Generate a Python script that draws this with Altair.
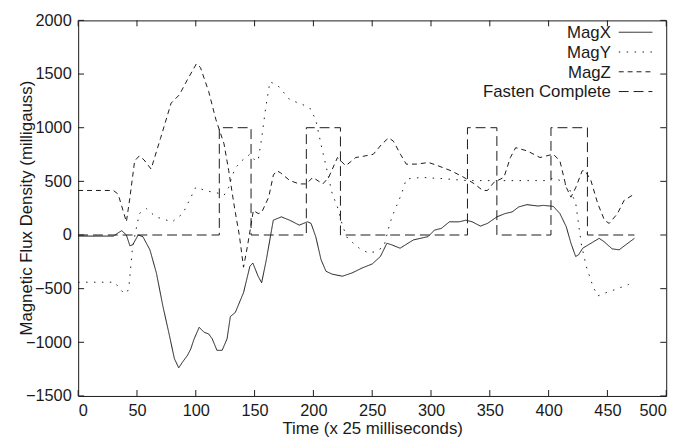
import altair as alt
import pandas as pd

# ---- data ----
magx_t = [0, 30, 34, 37, 41, 44, 46.5, 51, 55, 61, 66.5, 72, 77.6, 81.8, 85.5, 88.8, 93, 95.8, 98.6,
          102.9, 107, 111, 114, 118, 122.4, 126.6, 129.4, 133.6, 140.6, 146, 148.5, 153, 156, 160,
          165.9, 172.8, 179.8, 188, 195, 198, 202, 206.5, 210.7, 216, 224.7, 233, 241.5, 250, 257,
          262.5, 266.7, 273.7, 285, 297.5, 303, 308.7, 315.7, 324, 329.7, 335, 342, 348, 356, 363,
          369, 374.5, 381.5, 391, 395.5, 404, 409.6, 415, 419, 423, 425.5, 429, 436, 443, 447, 454,
          460, 465.5, 473]
magx_v = [-10, -10, 20, 40, 0, -101, -90, 0, -15, -138, -353, -661, -937, -1152, -1238, -1183, -1121,
          -1060, -968, -860, -906, -922, -968, -1075, -1075, -968, -760, -722, -537, -292, -261, -384,
          -445, -230, 138, 169, 138, 92, 123, 108, -15, -230, -338, -365, -384, -353, -307, -270,
          -200, -77, -92, -123, -46, -15, 46, 61, 123, 123, 138, 123, 83, 108, 169, 200, 215, 261,
          283, 270, 276, 267, 200, 77, -77, -200, -184, -123, -77, -31, -61, -129, -138, -92, -31]

magy_t = [0, 31, 37, 41, 43, 44.5, 46, 48, 52, 58, 66, 80, 89, 100, 108, 114, 119, 124, 128, 131, 134,
          139, 146, 150, 153, 156, 159, 163, 170, 180, 190, 197, 202, 206.5, 211, 216, 220.5, 225,
          229, 239, 247, 253, 260, 265, 268, 275, 279, 292, 310, 331, 356, 380, 398, 404, 412, 418,
          423, 427.7, 432, 437.6, 441.8, 448.7, 457, 468, 473]
magy_v = [-440, -440, -522, -544, -500, -322, -138, -15, 200, 246, 169, 123, 200, 445, 415, 400, 390,
          369, 445, 553, 630, 691, 753, 700, 691, 900, 1150, 1429, 1390, 1260, 1220, 1183, 1075, 845,
          630, 384, 261, 77, -30, -123, -169, -154, -108, 108, 200, 384, 522, 537, 525, 507, 507,
          507, 507, 530, 500, 420, 300, -77, -292, -476, -568, -538, -507, -461, -430]

magz_t = [0, 30, 34, 41, 44, 48, 52, 56, 62, 70, 79, 86, 93, 100.6, 104, 111, 117, 124, 128, 133, 137,
          140.6, 144, 149, 153, 156, 162, 166, 169, 172, 180, 188, 194, 199.5, 208, 213, 220.5, 227.5,
          236, 244, 251, 258, 264, 268, 274, 279, 288, 298, 306, 317, 328, 337, 344, 348, 353.5, 362,
          367.5, 372, 382, 392.7, 398, 404, 409.6, 415, 419, 423, 428.6, 431, 436, 441.8, 447.5,
          451.5, 458.6, 464.2, 471, 473]
magz_v = [415, 415, 380, 123, 350, 690, 737, 700, 615, 900, 1229, 1306, 1450, 1597, 1560, 1336, 1080,
          850, 600, 250, 0, -300, -100, 230, 200, 210, 353, 560, 599, 580, 507, 476, 476, 537, 476,
          537, 722, 645, 722, 737, 753, 845, 906, 875, 753, 660, 661, 676, 645, 599, 537, 476, 415,
          415, 491, 537, 722, 814, 783, 722, 737, 753, 691, 445, 353, 440, 599, 600, 507, 292, 138,
          108, 200, 323, 369, 380]

fasten_t = [0, 120, 120, 147, 147, 194, 194, 223, 223, 331, 331, 356, 356, 402, 402, 433, 433, 473]
fasten_v = [0, 0, 1000, 1000, 0, 0, 1000, 1000, 0, 0, 1000, 1000, 0, 0, 1000, 1000, 0, 0]

series_names = ["MagX", "MagY", "MagZ", "Fasten Complete"]
series_dash = [[1, 0], [1.5, 6.5], [5, 4], [10, 5]]

x_ticks = [0, 50, 100, 150, 200, 250, 300, 350, 400, 450, 500]
y_ticks = [-1500, -1000, -500, 0, 500, 1000, 1500, 2000]

x_title = "Time (x 25 milliseconds)"
y_title = "Magnetic Flux Density (milligauss)"

# ---- build long table ----
rows = []
for name, ts, vs in zip(series_names, [magx_t, magy_t, magz_t, fasten_t],
                        [magx_v, magy_v, magz_v, fasten_v]):
    for i, (t, v) in enumerate(zip(ts, vs)):
        rows.append({"series": name, "x": t, "y": v, "i": i})
df = pd.DataFrame(rows)

W, H = 595, 380
FONT = "Liberation Sans"
INK = "#1a1a1a"

x_enc = alt.X("x:Q", scale=alt.Scale(domain=[0, 500], nice=False, zero=False),
              axis=alt.Axis(values=x_ticks, format="d", title=x_title,
                            titleY=33, titleBaseline="middle", labelPadding=7))
y_enc = alt.Y("y:Q", scale=alt.Scale(domain=[-1500, 2000], nice=False, zero=False),
              axis=alt.Axis(values=y_ticks, format="d", title=None, labelPadding=7))

dash_scale = alt.Scale(domain=series_names, range=series_dash)

lines = alt.Chart(df).mark_line(strokeWidth=1, color=INK).encode(
    x=x_enc, y=y_enc,
    strokeDash=alt.StrokeDash("series:N", scale=dash_scale, legend=None),
    detail="series:N",
    order="i:Q",
)

xt = pd.DataFrame({"x": x_ticks})
yt = pd.DataFrame({"y": y_ticks})
TL = 6
tick_layers = [
    alt.Chart(xt).mark_rule(color=INK, strokeWidth=1).encode(x=x_enc, y=alt.value(H), y2=alt.value(H - TL)),
    alt.Chart(xt).mark_rule(color=INK, strokeWidth=1).encode(x=x_enc, y=alt.value(0), y2=alt.value(TL)),
    alt.Chart(yt).mark_rule(color=INK, strokeWidth=1).encode(y=y_enc, x=alt.value(0), x2=alt.value(TL)),
    alt.Chart(yt).mark_rule(color=INK, strokeWidth=1).encode(y=y_enc, x=alt.value(W), x2=alt.value(W - TL)),
]

ytitle = alt.Chart(pd.DataFrame({"t": [y_title]})).mark_text(
    angle=270, align="center", baseline="middle", font=FONT, fontSize=17, color=INK
).encode(text="t:N", x=alt.value(-52), y=alt.value(H / 2))

legend_layers = []
for k, (name, dash) in enumerate(zip(series_names, series_dash)):
    ld = pd.DataFrame({"name": [name]})
    legend_layers.append(
        alt.Chart(ld).mark_text(align="right", baseline="middle", font=FONT, fontSize=17, color=INK)
        .encode(text="name:N", x=alt.value(539), y=alt.value(13 + 20 * k))
    )
    legend_layers.append(
        alt.Chart(ld).mark_rule(color=INK, strokeWidth=1, strokeDash=dash)
        .encode(x=alt.value(547), x2=alt.value(581), y=alt.value(12 + 20 * k))
    )

chart = alt.layer(lines, *tick_layers, ytitle, *legend_layers).properties(
    width=W, height=H,
    padding={"left": 71, "top": 10, "right": 19, "bottom": 41},
    autosize=alt.AutoSizeParams(type="none"),
).configure_view(
    stroke=INK, strokeWidth=1
).configure_axis(
    domain=False, ticks=False, tickSize=0, grid=False,
    labelFont=FONT, labelFontSize=16.5, labelColor=INK,
    titleFont=FONT, titleFontSize=17, titleFontWeight="normal", titleColor=INK,
)

chart.save("out.html", embed_options={"renderer": "svg", "actions": False})
